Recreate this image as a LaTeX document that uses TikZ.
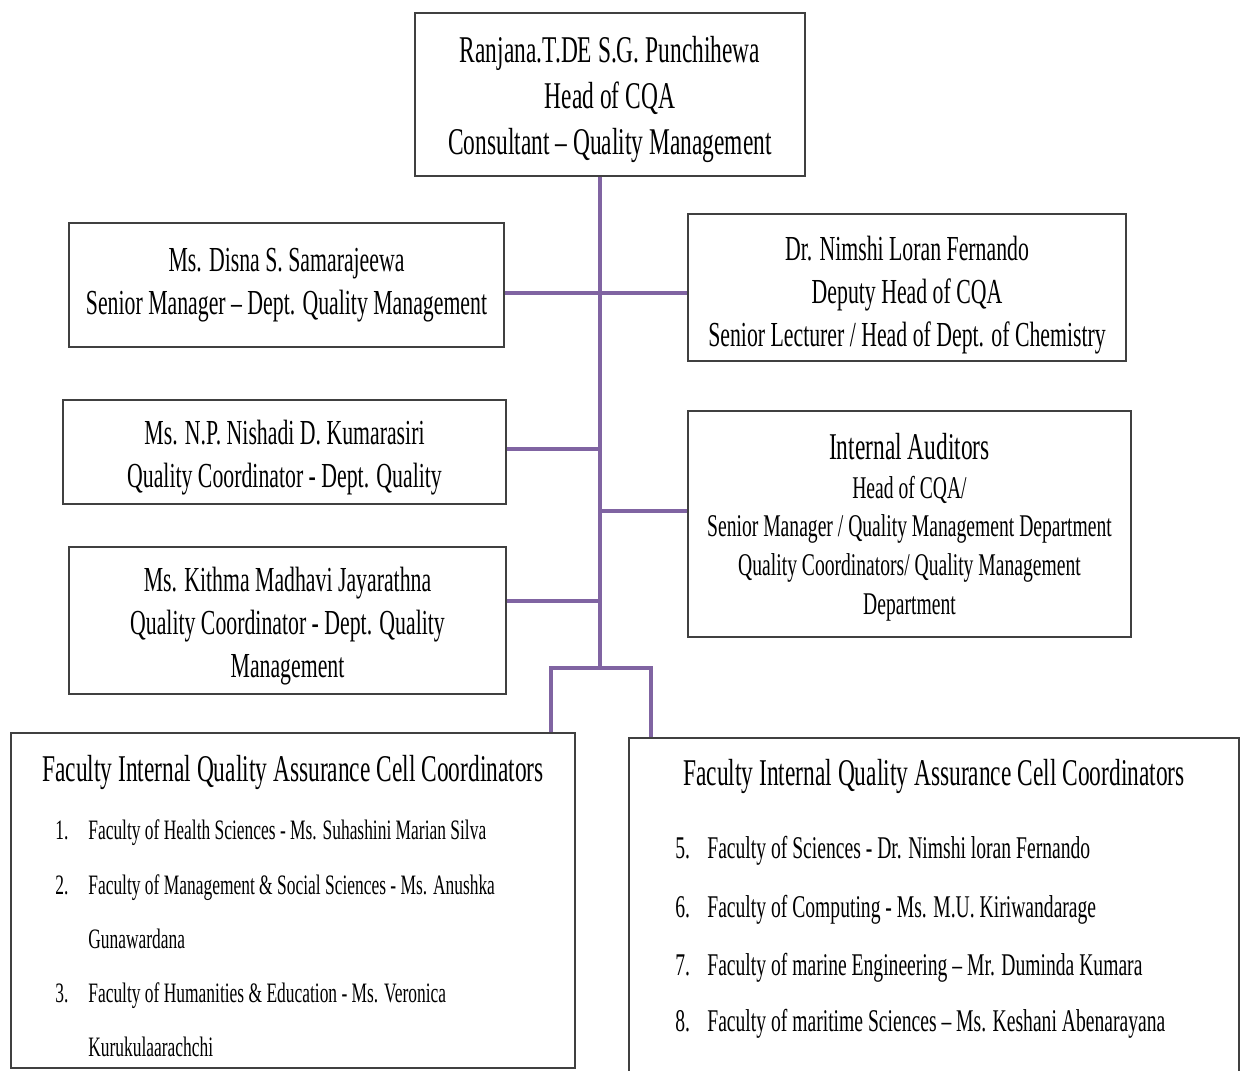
\documentclass[tikz,border=0pt]{standalone}
\usepackage{fontspec}
\setmainfont{Liberation Serif}[FakeStretch=0.62]
\usepackage{tikz}
\usetikzlibrary{positioning, calc}
\definecolor{linkc}{HTML}{8064A2}
\definecolor{boxc}{HTML}{404040}

\begin{document}
\begin{tikzpicture}[x=0.02cm, y=-0.02cm,
    unit/.style={draw=boxc, line width=1.1pt, fill=white, inner sep=0pt},
    link/.style={draw=linkc, line width=2.6pt},
    bigf/.style={font=\fontsize{21.5}{26}\selectfont, align=center},
    midf/.style={font=\fontsize{20}{24.5}\selectfont, align=center},
    itemf/.style={anchor=west, inner sep=0pt, text height=1.5ex, text depth=.25ex}]
    \useasboundingbox (0,0) rectangle (1240,1071);
    % boxes
    \node[unit, minimum width=7.8cm, minimum height=3.26cm] (head) at (610,94.5) {};
    \node[unit, minimum width=8.7cm, minimum height=2.48cm] (disna) at (286.5,285) {};
    \node[unit, minimum width=8.86cm, minimum height=2.08cm] (nishadi) at (284.5,452) {};
    \node[unit, minimum width=8.74cm, minimum height=2.94cm] (kithma) at (287.5,620.5) {};
    \node[unit, minimum width=8.76cm, minimum height=2.94cm] (nimshi) at (907,287.5) {};
    \node[unit, minimum width=8.86cm, minimum height=4.52cm] (audit) at (909.5,524) {};
    \node[unit, minimum width=11.28cm, minimum height=6.7cm] (fleft) at (293,900.5) {};
    \node[unit, minimum width=12.2cm, minimum height=6.76cm] (fright) at (934,907) {};
    % box texts
    \node[bigf] (headtxt) at ($(head)+(0,5)$)
      {Ranjana.T.DE S.G. Punchihewa\\Head of CQA\\Consultant -- Quality Management};
    \node[midf] (disnatxt) at (disna)
      {Ms. Disna S. Samarajeewa\\Senior Manager -- Dept. Quality Management};
    \node[midf] (nishaditxt) at ($(nishadi)+(0,6)$)
      {Ms. N.P. Nishadi D. Kumarasiri\\Quality Coordinator - Dept. Quality};
    \node[midf] (kithmatxt) at ($(kithma)+(0,6)$)
      {Ms. Kithma Madhavi Jayarathna\\Quality Coordinator - Dept. Quality\\Management};
    \node[midf] (nimshitxt) at ($(nimshi)+(0,8)$)
      {Dr. Nimshi Loran Fernando\\Deputy Head of CQA\\Senior Lecturer / Head of Dept. of Chemistry};
    \node[align=center, font=\fontsize{18}{22}\selectfont] (audittxt) at ($(audit)+(0,3)$)
      {{\fontsize{21.5}{26}\selectfont Internal Auditors}\\Head of CQA/\\
       Senior Manager / Quality Management Department\\
       Quality Coordinators/ Quality Management\\Department};
    % faculty cells
    \node[bigf] (tleft) at (293,772) {Faculty Internal Quality Assurance Cell Coordinators};
    \node[bigf] (tright) at (934,776) {Faculty Internal Quality Assurance Cell Coordinators};
    \foreach \yy/\nn in {834/1, 889/2, 997/3}
      \node[itemf, font=\fontsize{16}{20}\selectfont] (lnum\nn) at (55,\yy) {\nn.};
    \foreach \yy/\txt [count=\k] in {
        834/{Faculty of Health Sciences - Ms. Suhashini Marian Silva},
        889/{Faculty of Management \& Social Sciences - Ms. Anushka},
        943/{Gunawardana},
        997/{Faculty of Humanities \& Education - Ms. Veronica},
        1051/{Kurukulaarachchi}}
      \node[itemf, font=\fontsize{16}{20}\selectfont] (lrow\k) at (88,\yy) {\txt};
    \foreach \yy/\nn/\txt in {
        853/5/{Faculty of Sciences - Dr. Nimshi loran Fernando},
        912/6/{Faculty of Computing - Ms. M.U. Kiriwandarage},
        970/7/{Faculty of marine Engineering -- Mr. Duminda Kumara},
        1026/8/{Faculty of maritime Sciences -- Ms. Keshani Abenarayana}}{
      \node[itemf, font=\fontsize{18}{22}\selectfont] (rnum\nn) at (675,\yy) {\nn.};
      \node[itemf, font=\fontsize{18}{22}\selectfont] (rrow\nn) at (707,\yy) {\txt};
    }
    % trunk and branches
    \coordinate (t1) at (600,293);
    \coordinate (t2) at (600,449);
    \coordinate (t3) at (600,511);
    \coordinate (t4) at (600,601);
    \coordinate (tb) at (600,668);
    \coordinate (bl) at (551,668);
    \coordinate (br) at (651,668);
    \draw[link] (head.south -| t1) -- (tb);
    \draw[link] (disna.east |- t1) -- (nimshi.west |- t1);
    \draw[link] (nishadi.east |- t2) -- (t2);
    \draw[link] (t3) -- (audit.west |- t3);
    \draw[link] (kithma.east |- t4) -- (t4);
    \draw[link] (bl |- fleft.north) -- (bl) -- (br) -- (br |- fright.north);
\end{tikzpicture}
\end{document}
